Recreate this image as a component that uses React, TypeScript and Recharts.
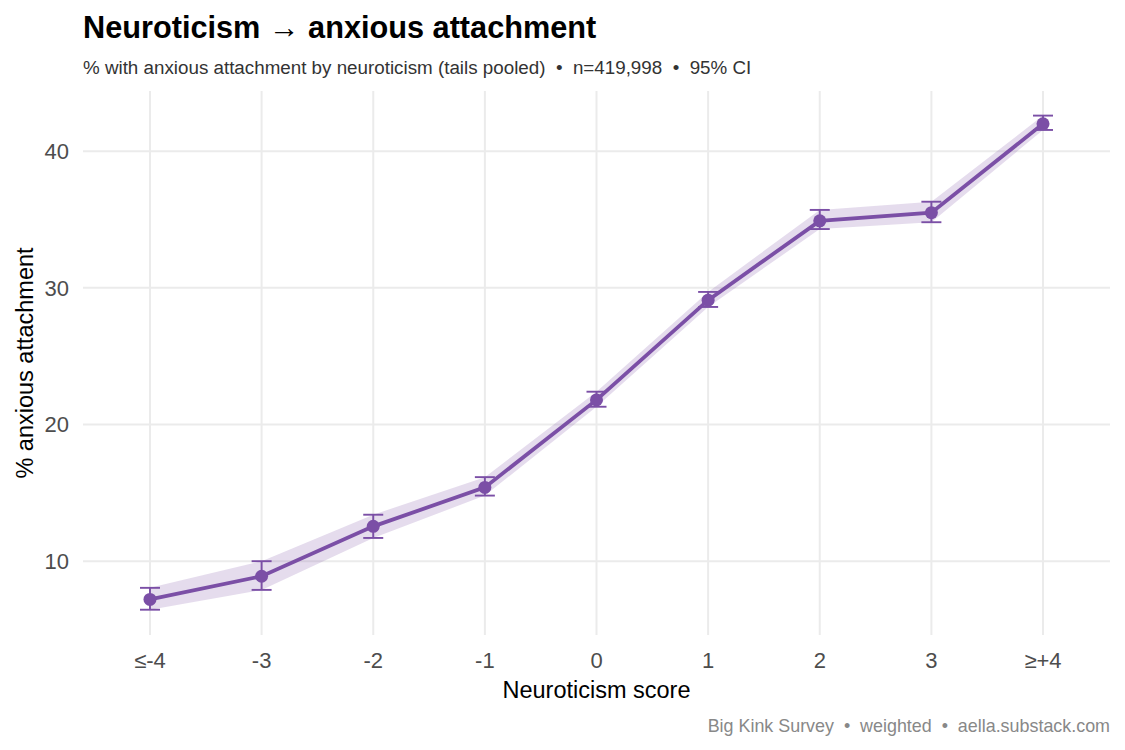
import React from 'react'
import { ComposedChart, Area, Line, ErrorBar, XAxis, YAxis, CartesianGrid } from 'recharts'

// neuroticism score buckets (tails pooled)
const categories = ['≤-4', '-3', '-2', '-1', '0', '1', '2', '3', '≥+4']
// % with anxious attachment, weighted
const pct = [7.2, 8.9, 12.55, 15.4, 21.8, 29.1, 34.9, 35.5, 42.0]
// 95% CI
const ciLow = [6.45, 7.9, 11.7, 14.8, 21.3, 28.6, 34.3, 34.8, 41.55]
const ciHigh = [8.05, 10.0, 13.4, 16.15, 22.4, 29.7, 35.7, 36.3, 42.6]
const yTicks = [10, 20, 30, 40]
const xTicks = categories.map((_, i) => i)

const data = categories.map((c, i) => ({
	idx: i,
	label: c,
	pct: pct[i],
	band: [ciLow[i], ciHigh[i]],
	err: [pct[i] - ciLow[i], ciHigh[i] - pct[i]],
}))

const purple = '#7b4fa6'
const font = 'Arial, "Liberation Sans", sans-serif'

const W = 1125
const H = 750

export default function App() {
	return (
		<div style={{ position: 'absolute', left: 0, top: 0, width: W, height: H, background: '#fff', fontFamily: font }}>
			<ComposedChart width={W} height={H} data={data} margin={{ top: 91, right: 15, bottom: 75, left: 0 }}>
				<CartesianGrid stroke="#ebebeb" strokeWidth={2} horizontalValues={yTicks} verticalValues={xTicks} />
				<XAxis
					dataKey="idx"
					type="number"
					domain={[-0.6, 8.6]}
					ticks={xTicks}
					tickFormatter={(i: number) => categories[i]}
					allowDataOverflow
					axisLine={false}
					tickLine={false}
					tickSize={0}
					tickMargin={17}
					height={40}
					tick={{ fill: '#4d4d4d', fontSize: 22, fontFamily: font }}
				/>
				<YAxis
					type="number"
					domain={[4.6, 44.4]}
					ticks={yTicks}
					allowDataOverflow
					axisLine={false}
					tickLine={false}
					tickSize={0}
					tickMargin={14}
					width={83}
					tick={{ fill: '#4d4d4d', fontSize: 22, fontFamily: font }}
				/>
				<Area
					dataKey="band"
					type="linear"
					stroke="none"
					fill={purple}
					fillOpacity={0.2}
					isAnimationActive={false}
				/>
				<Line
					dataKey="pct"
					type="linear"
					stroke={purple}
					strokeWidth={3.8}
					dot={{ r: 6.5, fill: purple, stroke: purple, strokeWidth: 0 }}
					activeDot={false}
					isAnimationActive={false}
				>
					<ErrorBar dataKey="err" direction="y" width={10} stroke={purple} strokeWidth={1.9} />
				</Line>
			</ComposedChart>
			<svg width={W} height={H} style={{ position: 'absolute', left: 0, top: 0, pointerEvents: 'none', whiteSpace: 'pre' }}>
				<text x={83} y={38} fontSize={30.7} fontWeight="bold" fill="#000" fontFamily={font}>
					Neuroticism → anxious attachment
				</text>
				<text x={83} y={74} fontSize={18.8} fill="#333" fontFamily={font} xmlSpace="preserve">
					{'% with anxious attachment by neuroticism (tails pooled)  •  n=419,998  •  95% CI'}
				</text>
				<text x={596.5} y={698} fontSize={23.5} fill="#000" textAnchor="middle" fontFamily={font}>
					Neuroticism score
				</text>
				<text
					x={33}
					y={363}
					fontSize={23.5}
					fill="#000"
					textAnchor="middle"
					transform="rotate(-90 33 363)"
					fontFamily={font}
				>
					% anxious attachment
				</text>
				<text x={1110} y={732} fontSize={17.9} fill="#888" textAnchor="end" fontFamily={font} xmlSpace="preserve">
					{'Big Kink Survey  •  weighted  •  aella.substack.com'}
				</text>
			</svg>
		</div>
	)
}
